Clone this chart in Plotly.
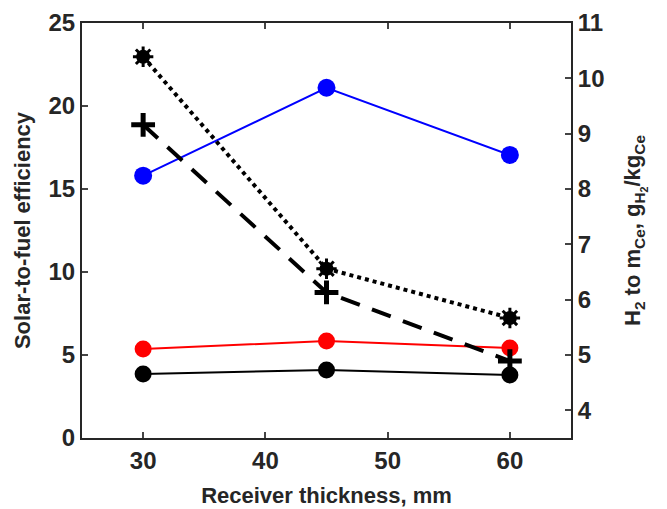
import plotly.graph_objects as go

thickness = [30, 45, 60]
eff_blue = [15.8, 21.1, 17.05]
eff_red = [5.36, 5.84, 5.42]
eff_black = [3.86, 4.1, 3.8]
h2_dotted = [10.39, 6.56, 5.67]
h2_dashed = [9.16, 6.13, 4.89]

x_ticks = [30, 40, 50, 60]
y_ticks = [0, 5, 10, 15, 20, 25]
y2_ticks = [4, 5, 6, 7, 8, 9, 10, 11]

FONT = "Liberation Sans"
AX = "#262626"

fig = go.Figure()
fig.add_trace(go.Scatter(x=thickness, y=h2_dotted, yaxis="y2", mode="lines",
                         line=dict(color="black", width=4, dash="dot")))
fig.add_trace(go.Scatter(x=thickness, y=h2_dotted, yaxis="y2", mode="markers",
                         marker=dict(symbol="circle", size=14, color="black")))
fig.add_trace(go.Scatter(x=thickness, y=h2_dotted, yaxis="y2", mode="markers",
                         marker=dict(symbol="asterisk-open", size=17, color="black",
                                     line=dict(color="black", width=3))))
fig.add_trace(go.Scatter(x=thickness, y=h2_dashed, yaxis="y2", mode="lines+markers",
                         line=dict(color="black", width=4, dash="20px,13px"),
                         marker=dict(symbol="cross-thin-open", size=17, color="black",
                                     line=dict(color="black", width=5))))
fig.add_trace(go.Scatter(x=thickness, y=eff_blue, mode="lines+markers",
                         line=dict(color="#0000ff", width=2),
                         marker=dict(symbol="circle", size=18, color="#0000ff")))
fig.add_trace(go.Scatter(x=thickness, y=eff_red, mode="lines+markers",
                         line=dict(color="#ff0000", width=2),
                         marker=dict(symbol="circle", size=17, color="#ff0000")))
fig.add_trace(go.Scatter(x=thickness, y=eff_black, mode="lines+markers",
                         line=dict(color="black", width=2),
                         marker=dict(symbol="circle", size=17, color="black")))

tickfont = dict(family=FONT, size=24, color=AX)
titlefont = dict(family=FONT, size=22, color=AX)

def bold(vals):
    return ["<b>%s</b>" % v for v in vals]

fig.update_layout(
    width=667, height=509,
    margin=dict(l=82, r=96, t=23, b=71),
    plot_bgcolor="white", paper_bgcolor="white",
    showlegend=False,
    font=dict(family=FONT, color=AX),
    xaxis=dict(range=[25, 65], tickvals=x_ticks, ticktext=bold(x_ticks), ticks="inside", ticklen=6, tickwidth=1.5,
               showline=True, linecolor=AX, linewidth=2, mirror="ticks", showgrid=False, zeroline=False,
               tickfont=tickfont, automargin=False,
               title=dict(text="<b>Receiver thickness, mm</b>", font=titlefont, standoff=15)),
    yaxis=dict(range=[0, 25], tickvals=y_ticks, ticktext=bold(y_ticks), ticks="inside", ticklen=6, tickwidth=1.5,
               showline=True, linecolor=AX, linewidth=2, showgrid=False, zeroline=False,
               tickfont=tickfont, automargin=False,
               title=dict(text="<b>Solar-to-fuel efficiency</b>", font=titlefont, standoff=12)),
    yaxis2=dict(range=[3.5, 11], tickvals=y2_ticks, ticktext=bold(y2_ticks), overlaying="y", side="right",
                ticks="inside", ticklen=6, tickwidth=1.5,
                showline=True, linecolor=AX, linewidth=2, showgrid=False, zeroline=False,
                tickfont=tickfont, automargin=False,
                title=dict(text="<b>H<sub>2</sub> to m<sub>Ce</sub>, g<sub>H<sub>2</sub></sub>/kg<sub>Ce</sub></b>",
                           font=titlefont, standoff=21)),
)

fig.write_html("out.html")
